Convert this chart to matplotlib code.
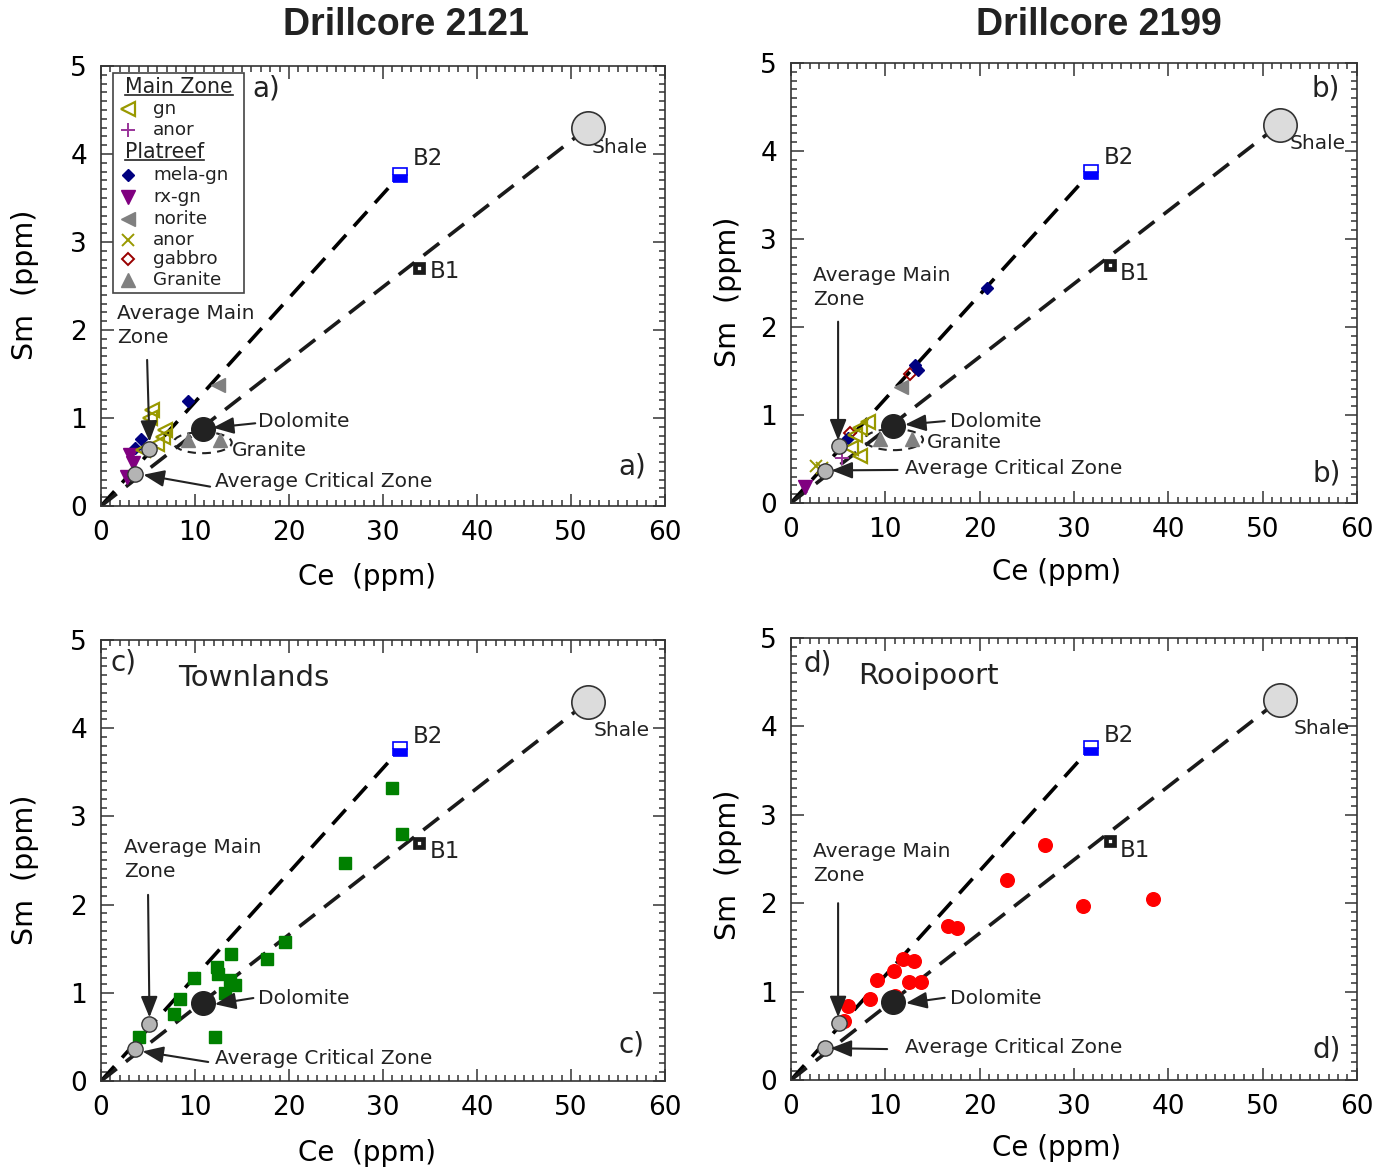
import matplotlib
matplotlib.use("Agg")
import matplotlib.pyplot as plt
from matplotlib.patches import Ellipse, Rectangle
from matplotlib.lines import Line2D
from matplotlib.ticker import MultipleLocator

plt.rcParams['font.family'] = ['DejaVu Sans']
TXT = '#222222'

# ---- reference end-members (Ce, Sm in ppm) ----
shale = (51.8, 4.30)
b2 = (31.8, 3.76)
b1 = (33.8, 2.70)
dolomite = (10.8, 0.88)
avg_main_zone = (5.1, 0.65)
avg_critical_zone = (3.6, 0.36)

# ---- Drillcore 2121 ----
a_gn_ce = [5.4, 5.2, 6.8, 6.6, 6.0, 4.5]
a_gn_sm = [1.09, 1.00, 0.86, 0.78, 0.70, 0.64]
a_melagn_ce = [9.2, 4.2, 3.6]
a_melagn_sm = [1.19, 0.76, 0.66]
a_rxgn_ce = [3.1, 3.4, 2.8]
a_rxgn_sm = [0.58, 0.49, 0.33]
a_norite_ce = [12.4]
a_norite_sm = [1.37]
a_granite_ce = [9.3, 12.7]
a_granite_sm = [0.75, 0.75]

# ---- Drillcore 2199 ----
b_gn_ce = [8.2, 7.3, 6.8, 6.4, 7.3]
b_gn_sm = [0.92, 0.85, 0.77, 0.62, 0.53]
b_mzanor_ce = [5.4]
b_mzanor_sm = [0.51]
b_melagn_ce = [20.8, 13.1, 13.5, 6.0]
b_melagn_sm = [2.44, 1.57, 1.51, 0.74]
b_rxgn_ce = [1.5]
b_rxgn_sm = [0.18]
b_norite_ce = [11.7]
b_norite_sm = [1.32]
b_anor_ce = [2.7, 3.3]
b_anor_sm = [0.42, 0.40]
b_gabbro_ce = [12.6, 6.25]
b_gabbro_sm = [1.47, 0.80]
b_granite_ce = [9.4, 12.8]
b_granite_sm = [0.73, 0.73]

# ---- Townlands ----
c_ce = [4.0, 7.8, 8.4, 9.9, 12.1, 12.3, 12.4, 13.2, 13.7, 14.2, 13.8, 17.6, 19.6, 25.9, 31.0, 32.0]
c_sm = [0.50, 0.76, 0.93, 1.17, 0.50, 1.29, 1.21, 1.00, 1.15, 1.09, 1.44, 1.38, 1.58, 2.47, 3.32, 2.80]

# ---- Rooipoort ----
d_ce = [26.9, 22.9, 31.0, 38.4, 16.6, 17.6, 11.9, 13.0, 10.9, 9.1, 12.5, 13.8, 8.4, 11.0, 6.1, 5.6]
d_sm = [2.66, 2.26, 1.97, 2.05, 1.74, 1.72, 1.37, 1.35, 1.23, 1.13, 1.11, 1.11, 0.92, 0.95, 0.84, 0.67]

# marker styles for the lithologies
STY = {
    'gn':      dict(marker='<', ls='none', ms=10, mfc='none', mec='#999900', mew=1.6),
    'mzanor':  dict(marker='+', ls='none', ms=10, mec='#993399', mew=1.4),
    'melagn':  dict(marker='D', ls='none', ms=6.5, mfc='#000080', mec='#000080'),
    'rxgn':    dict(marker='v', ls='none', ms=10, mfc='#800080', mec='#800080'),
    'norite':  dict(marker='<', ls='none', ms=10, mfc='#808080', mec='#808080'),
    'anor':    dict(marker='x', ls='none', ms=9, mec='#999900', mew=1.4),
    'gabbro':  dict(marker='D', ls='none', ms=6.5, mfc='none', mec='#990000', mew=1.4),
    'granite': dict(marker='^', ls='none', ms=10, mfc='#808080', mec='#808080'),
}

fig = plt.figure(figsize=(13.92, 11.71), dpi=100)
ax_a = fig.add_axes([0.0726, 0.5679, 0.4052, 0.3757])
ax_b = fig.add_axes([0.5682, 0.5705, 0.4066, 0.3757])
ax_c = fig.add_axes([0.0726, 0.0769, 0.4052, 0.3766])
ax_d = fig.add_axes([0.5682, 0.0777, 0.4066, 0.3775])

ARROW = dict(arrowstyle='-|>,head_length=0.75,head_width=0.3', color=TXT, lw=1.5,
             shrinkA=0, shrinkB=0, mutation_scale=17)


def base(ax, xl, yl, xlab):
    ax.set_xlim(0, 60)
    ax.set_ylim(0, 5)
    ax.xaxis.set_major_locator(MultipleLocator(10))
    ax.xaxis.set_minor_locator(MultipleLocator(1))
    ax.yaxis.set_major_locator(MultipleLocator(1))
    ax.yaxis.set_minor_locator(MultipleLocator(0.1))
    ax.tick_params(which='both', direction='in', top=True, right=True,
                   colors='#333333', labelcolor='black', width=1.1)
    ax.tick_params(which='major', length=9, labelsize=19, pad=10)
    ax.tick_params(which='minor', length=4.5)
    for s in ax.spines.values():
        s.set_color('#333333')
        s.set_linewidth(1.2)
    ax.set_xlabel(xlab, fontsize=20)
    ax.set_ylabel('Sm  (ppm)', fontsize=20.5)
    ax.xaxis.set_label_coords(xl[0], xl[1])
    ax.xaxis.label.set_va('center')
    ax.yaxis.set_label_coords(yl[0], yl[1])
    ax.yaxis.label.set_va('center')

    # mixing lines from the origin to B2 and towards shale
    ax.plot([0, b2[0]], [0, b2[1]], color='black', lw=2.6,
            ls=(0, (5.5, 3.2)), zorder=2)
    ax.plot([0, shale[0] * 0.975], [0, shale[1] * 0.975], color='#1a1a1a', lw=2.6,
            ls=(0, (5.5, 3.2)), zorder=2)

    # end members
    ax.plot(*shale, marker='o', ms=24, mfc='#dcdcdc', mec='#333333', mew=1.2, zorder=5)
    ax.plot(*b2, marker='s', ms=10.5, fillstyle='bottom', mfc='#0000ff',
            mfcalt='white', mec='#0000ff', mew=1.2, zorder=5)
    ax.plot(*b1, marker='s', ms=6.2, mfc='white', mec='#1a1a1a', mew=3.4, zorder=5)
    ax.plot(*dolomite, marker='o', ms=17, mfc='#222222', mec='#222222', zorder=6)
    ax.plot(*avg_main_zone, marker='o', ms=11, mfc='#b4b4b4', mec='#333333', mew=1.0, zorder=6)
    ax.plot(*avg_critical_zone, marker='o', ms=11, mfc='#b4b4b4', mec='#333333', mew=1.0, zorder=6)


def labels(ax, main_txt, main_arrow, dol_txt, dol_arrow, crit_txt, crit_arrow,
           shale_txt, b2_txt, b1_txt):
    ax.text(*main_txt, 'Average Main\nZone', fontsize=14.5, color=TXT, va='top',
            ha='left', linespacing=1.3)
    ax.annotate('', xy=main_arrow[1], xytext=main_arrow[0], arrowprops=ARROW, zorder=7)
    ax.text(*dol_txt, 'Dolomite', fontsize=14.5, color=TXT, va='center', ha='left')
    ax.annotate('', xy=dol_arrow[1], xytext=dol_arrow[0], arrowprops=ARROW, zorder=7)
    ax.text(*crit_txt, 'Average Critical Zone', fontsize=14.5, color=TXT, va='center', ha='left')
    ax.annotate('', xy=crit_arrow[1], xytext=crit_arrow[0], arrowprops=ARROW, zorder=7)
    ax.text(*shale_txt, 'Shale', fontsize=14.5, color=TXT, va='center', ha='left')
    ax.text(*b2_txt, 'B2', fontsize=16.5, color=TXT, va='center', ha='left')
    ax.text(*b1_txt, 'B1', fontsize=16.5, color=TXT, va='center', ha='left')


def granite_ring(ax, xy, txt):
    ax.add_patch(Ellipse(xy, 6.2, 0.24, fill=False, ls=(0, (4, 3)), lw=1.5,
                         ec=TXT, zorder=3))
    ax.text(*txt, 'Granite', fontsize=14.5, color=TXT, va='center', ha='left')


# ---------------- a) Drillcore 2121 ----------------
ax = ax_a
base(ax, (0.472, -0.161), (-0.135, 0.502), 'Ce  (ppm)')
ax.plot(a_granite_ce, a_granite_sm, zorder=4, **STY['granite'])
ax.plot(a_norite_ce, a_norite_sm, zorder=4, **STY['norite'])
ax.plot(a_melagn_ce, a_melagn_sm, zorder=4, **STY['melagn'])
ax.plot(a_rxgn_ce, a_rxgn_sm, zorder=4, **STY['rxgn'])
ax.plot(a_gn_ce, a_gn_sm, zorder=4, **STY['gn'])
granite_ring(ax, (10.8, 0.72), (13.9, 0.625))
labels(ax, (1.7, 2.29), ((4.9, 1.66), (5.15, 0.73)),
       (16.7, 0.955), ((16.4, 0.94), (11.9, 0.89)),
       (12.1, 0.28), ((11.6, 0.22), (4.5, 0.355)),
       (52.2, 4.07), (33.2, 3.95), (35.0, 2.67))
ax.text(0.268, 0.95, 'a)', transform=ax.transAxes, fontsize=20, color=TXT, va='center')
ax.text(0.918, 0.089, 'a)', transform=ax.transAxes, fontsize=20, color=TXT, va='center')
fig.text(0.2917, 0.979, 'Drillcore 2121', fontsize=27, fontweight='bold',
         family='Liberation Sans', color=TXT, ha='center', va='center')

# legend box
ax.add_patch(Rectangle((0.0213, 0.484), 0.2322, 0.5, transform=ax.transAxes,
                       fill=True, fc='white', ec='#444444', lw=1.2, zorder=8))
rows = [('Main Zone', None, 0.952), ('gn', 'gn', 0.902), ('anor', 'mzanor', 0.855),
        ('Platreef', None, 0.805), ('mela-gn', 'melagn', 0.752), ('rx-gn', 'rxgn', 0.702),
        ('norite', 'norite', 0.652), ('anor', 'anor', 0.605), ('gabbro', 'gabbro', 0.561),
        ('Granite', 'granite', 0.514)]
headers = []
for label, key, yy in rows:
    if key is None:
        t = ax.text(0.0426, yy, label, transform=ax.transAxes, fontsize=14.8,
                    color=TXT, va='center', ha='left', zorder=9)
        headers.append(t)
    else:
        st = dict(STY[key])
        ax.plot([0.048], [yy], transform=ax.transAxes, clip_on=False, zorder=9, **st)
        ax.text(0.092, yy, label, transform=ax.transAxes, fontsize=13.2,
                color=TXT, va='center', ha='left', zorder=9)

# ---------------- b) Drillcore 2199 ----------------
ax = ax_b
base(ax, (0.47, -0.157), (-0.111, 0.48), 'Ce (ppm)')
ax.plot(b_granite_ce, b_granite_sm, zorder=4, **STY['granite'])
ax.plot(b_norite_ce, b_norite_sm, zorder=4, **STY['norite'])
ax.plot(b_gabbro_ce, b_gabbro_sm, zorder=4, **STY['gabbro'])
ax.plot(b_melagn_ce, b_melagn_sm, zorder=4, **STY['melagn'])
ax.plot(b_rxgn_ce, b_rxgn_sm, zorder=4, **STY['rxgn'])
ax.plot(b_anor_ce, b_anor_sm, zorder=4, **STY['anor'])
ax.plot(b_mzanor_ce, b_mzanor_sm, zorder=4, **STY['mzanor'])
ax.plot(b_gn_ce, b_gn_sm, zorder=4, **STY['gn'])
granite_ring(ax, (10.9, 0.72), (14.4, 0.69))
labels(ax, (2.3, 2.69), ((5.0, 2.06), (5.0, 0.71)),
       (16.9, 0.92), ((16.3, 0.93), (12.1, 0.89)),
       (12.1, 0.39), ((11.3, 0.375), (4.3, 0.37)),
       (52.9, 4.09), (33.2, 3.93), (34.9, 2.61))
ax.text(0.919, 0.943, 'b)', transform=ax.transAxes, fontsize=20, color=TXT, va='center')
ax.text(0.922, 0.068, 'b)', transform=ax.transAxes, fontsize=20, color=TXT, va='center')
fig.text(0.7895, 0.979, 'Drillcore 2199', fontsize=27, fontweight='bold',
         family='Liberation Sans', color=TXT, ha='center', va='center')

# ---------------- c) Townlands ----------------
ax = ax_c
base(ax, (0.472, -0.163), (-0.135, 0.478), 'Ce  (ppm)')
ax.plot(c_ce, c_sm, marker='s', ls='none', ms=9.2, mfc='#008000', mec='#008000', zorder=4)
labels(ax, (2.45, 2.75), ((5.0, 2.11), (5.15, 0.72)),
       (16.7, 0.93), ((16.2, 0.94), (12.1, 0.87)),
       (12.1, 0.26), ((11.4, 0.215), (4.4, 0.335)),
       (52.4, 3.97), (33.2, 3.91), (35.0, 2.60))
ax.text(0.016, 0.948, 'c)', transform=ax.transAxes, fontsize=20, color=TXT, va='center')
ax.text(0.918, 0.082, 'c)', transform=ax.transAxes, fontsize=20, color=TXT, va='center')
ax.text(0.137, 0.914, 'Townlands', transform=ax.transAxes, fontsize=21, color=TXT, va='center')

# ---------------- d) Rooipoort ----------------
ax = ax_d
base(ax, (0.47, -0.154), (-0.111, 0.486), 'Ce (ppm)')
ax.plot(d_ce, d_sm, marker='o', ls='none', ms=9.8, mfc='#ff0000', mec='#ff0000', zorder=4)
labels(ax, (2.3, 2.69), ((5.0, 2.0), (5.0, 0.71)),
       (16.9, 0.92), ((16.3, 0.93), (12.2, 0.87)),
       (12.1, 0.37), ((10.2, 0.35), (4.2, 0.36)),
       (53.3, 3.98), (33.2, 3.9), (34.9, 2.6))
ax.text(0.023, 0.943, 'd)', transform=ax.transAxes, fontsize=20, color=TXT, va='center')
ax.text(0.922, 0.068, 'd)', transform=ax.transAxes, fontsize=20, color=TXT, va='center')
ax.text(0.118, 0.914, 'Rooipoort', transform=ax.transAxes, fontsize=21, color=TXT, va='center')

# underline the legend group headers
fig.canvas.draw()
renderer = fig.canvas.get_renderer()
inv = fig.transFigure.inverted()
for t in headers:
    bb = t.get_window_extent(renderer)
    (x0, y0) = inv.transform((bb.x0, bb.y0 + 2))
    (x1, _) = inv.transform((bb.x1, bb.y0 + 2))
    fig.add_artist(Line2D([x0, x1], [y0, y0], color=TXT, lw=1.2, zorder=10))

fig.savefig('out.png', dpi=100)
